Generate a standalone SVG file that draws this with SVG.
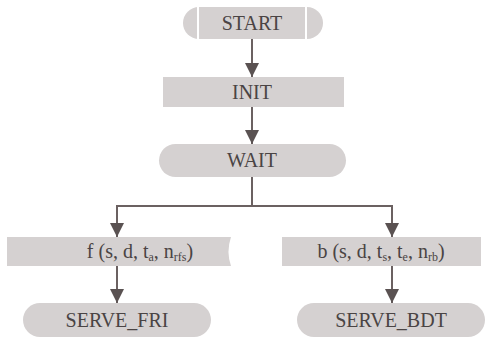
<svg xmlns="http://www.w3.org/2000/svg" width="495" height="341" viewBox="0 0 495 341">
<defs>
<style>
.n{fill:#d5d1d1;stroke:none}
.t{font-family:"Liberation Serif","Times New Roman",serif;font-size:20px;fill:#4a4444;text-anchor:middle}
.s{font-size:12px}
.c{fill:none;stroke:#6b6161;stroke-width:2}
</style>
<marker id="ah" viewBox="0 0 14 14" refX="14" refY="7" markerWidth="14" markerHeight="14" markerUnits="userSpaceOnUse" orient="auto">
<path d="M0,0 L14,7 L0,14 Z" fill="#5a5252"/>
</marker>
</defs>
<rect width="495" height="341" fill="#ffffff"/>
<g id="connectors">
<path class="c" d="M252,39 V77" marker-end="url(#ah)"/>
<path class="c" d="M252,107 V144" marker-end="url(#ah)"/>
<path class="c" d="M252,177 V206"/>
<path class="c" d="M117,206 H392"/>
<path class="c" d="M117,205 V237" marker-end="url(#ah)"/>
<path class="c" d="M392,205 V237" marker-end="url(#ah)"/>
<path class="c" d="M117,266 V303" marker-end="url(#ah)"/>
<path class="c" d="M392,266 V303" marker-end="url(#ah)"/>
</g>
<g id="start">
<rect class="n" x="183" y="7" width="140" height="32" rx="16"/>
<line x1="198" y1="7" x2="198" y2="39" stroke="#ffffff" stroke-width="2"/>
<line x1="306" y1="7" x2="306" y2="39" stroke="#ffffff" stroke-width="2"/>
<text class="t" x="252" y="30">START</text>
</g>
<g id="init">
<rect class="n" x="163" y="77" width="181" height="30"/>
<text class="t" x="252" y="99">INIT</text>
</g>
<g id="wait">
<rect class="n" x="159" y="144" width="187" height="33" rx="16.5"/>
<text class="t" x="252" y="167">WAIT</text>
</g>
<g id="f">
<path class="n" d="M7,237 H231 Q226,251.5 231,266 H7 Z"/>
<text class="t" x="140" y="258">f (s, d, t<tspan class="s" dy="3">a</tspan><tspan dy="-3">, n</tspan><tspan class="s" dy="3">rfs</tspan><tspan dy="-3">)</tspan></text>
</g>
<g id="b">
<rect class="n" x="282" y="237" width="199" height="29"/>
<text class="t" x="381" y="258">b (s, d, t<tspan class="s" dy="3">s</tspan><tspan dy="-3">, t</tspan><tspan class="s" dy="3">e</tspan><tspan dy="-3">, n</tspan><tspan class="s" dy="3">rb</tspan><tspan dy="-3">)</tspan></text>
</g>
<g id="serve_fri">
<rect class="n" x="23" y="303" width="188" height="34" rx="17"/>
<text class="t" x="117" y="327">SERVE_FRI</text>
</g>
<g id="serve_bdt">
<rect class="n" x="297" y="303" width="188" height="34" rx="17"/>
<text class="t" x="391" y="327">SERVE_BDT</text>
</g>
</svg>
